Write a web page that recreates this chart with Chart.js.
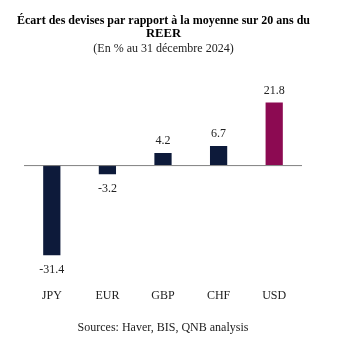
<!DOCTYPE html>
<html>
<head>
<meta charset="utf-8">
<script src="https://cdn.jsdelivr.net/npm/chart.js@4"></script>
<style>
  html, body { margin: 0; padding: 0; background: #ffffff; }
</style>
</head>
<body>
<canvas id="chartContainer" width="358" height="358"></canvas>
<script>
// Currencies and deviation from 20-year REER average (%)
const categories = ["JPY", "EUR", "GBP", "CHF", "USD"];
const values = [-31.4, -3.2, 4.2, 6.7, 21.8];
const barColors = ["#0d1a3a", "#0d1a3a", "#0d1a3a", "#0d1a3a", "#8c0a52"];

const serif = "'Liberation Serif', 'Times New Roman', serif";

// zero line + value labels + sources
const extras = {
  id: "extras",
  afterDatasetsDraw(chart) {
    const ctx = chart.ctx;
    const area = chart.chartArea;
    const y0 = chart.scales.y.getPixelForValue(0);
    ctx.save();
    ctx.strokeStyle = "#808080";
    ctx.lineWidth = 1;
    ctx.beginPath();
    ctx.moveTo(area.left, y0 + 0.5);
    ctx.lineTo(area.right, y0 + 0.5);
    ctx.stroke();

    ctx.fillStyle = "#222222";
    ctx.font = "12px " + serif;
    ctx.textAlign = "center";
    ctx.textBaseline = "middle";
    chart.getDatasetMeta(0).data.forEach((bar, i) => {
      const v = values[i];
      const y = v >= 0 ? bar.y - 12 : bar.y + 15;
      ctx.fillText(v.toFixed(1), bar.x, y);
    });

    ctx.fillText("Sources: Haver, BIS, QNB analysis", (area.left + area.right) / 2, 328);
    ctx.restore();
  },
};

const data = {
  labels: categories,
  datasets: [
    {
      label: "",
      data: values,
      backgroundColor: barColors,
      borderWidth: 0,
      barPercentage: 0.31,
      categoryPercentage: 1.0,
    },
  ],
};

const config = {
  type: "bar",
  data: data,
  options: {
    responsive: false,
    animation: false,
    layout: {
      padding: { left: 17, right: 48, top: 14, bottom: 29 },
    },
    scales: {
      x: {
        grid: { display: false, drawTicks: false },
        border: { display: false },
        ticks: {
          color: "#222222",
          font: { family: serif, size: 12 },
          padding: 26,
        },
      },
      y: {
        min: -34,
        max: 24,
        grid: { display: false, drawTicks: false },
        border: { display: false },
        ticks: { display: false },
        afterFit: (scale) => { scale.width = 7; },
      },
      yRight: {
        position: "right",
        min: -34,
        max: 24,
        grid: { display: false, drawTicks: false },
        border: { display: false },
        ticks: { display: false },
        afterFit: (scale) => { scale.width = 8; },
      },
    },
    plugins: {
      legend: { display: false },
      tooltip: { enabled: false },
      title: {
        display: true,
        text: ["Écart des devises par rapport à la moyenne sur 20 ans du", "REER"],
        color: "#000000",
        font: { family: serif, size: 12.6, weight: "bold", lineHeight: 1.05 },
        padding: { top: 0, bottom: 0 },
      },
      subtitle: {
        display: true,
        text: "(En % au 31 décembre 2024)",
        color: "#222222",
        font: { family: serif, size: 12, lineHeight: 1.15 },
        padding: { top: 1, bottom: 41 },
      },
    },
  },
  plugins: [extras],
};

const ctx = document.getElementById("chartContainer").getContext("2d");
const myChart = new Chart(ctx, config);
</script>
</body>
</html>
